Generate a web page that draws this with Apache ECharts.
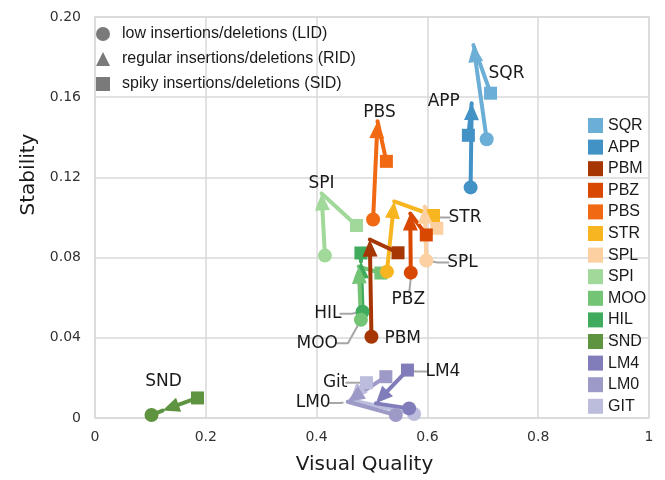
<!DOCTYPE html>
<html>
<head>
<meta charset="utf-8">
<script src="https://cdn.jsdelivr.net/npm/echarts@6/dist/echarts.min.js"></script>
<style>
html,body{margin:0;padding:0;background:#fff;}
#chart{width:665px;height:480px;}
</style>
</head>
<body>
<div id="chart"></div>
<script>
// ---- data ----
const configs = ['SQR','APP','PBM','PBZ','PBS','STR','SPL','SPI','MOO','HIL','SND','LM4','LM0','GIT'];
const plotLabels = ['SQR','APP','PBM','PBZ','PBS','STR','SPL','SPI','MOO','HIL','SND','LM4','LM0','Git'];
// low insertions/deletions (LID) : [quality, stability]
const lidQuality   = [0.707, 0.678, 0.499, 0.570, 0.502, 0.527, 0.598, 0.415, 0.480, 0.483, 0.102, 0.567, 0.543, 0.576];
const lidStability = [0.139, 0.115, 0.0405, 0.0725, 0.099, 0.073, 0.0785, 0.081, 0.049, 0.053, 0.0015, 0.0048, 0.0015, 0.002];
// regular insertions/deletions (RID)
const ridQuality   = [0.683, 0.680, 0.496, 0.569, 0.510, 0.540, 0.595, 0.409, 0.476, 0.480, 0.122, 0.507, 0.456, 0.461];
const ridStability = [0.186, 0.157, 0.089, 0.102, 0.148, 0.108, 0.1054, 0.112, 0.0755, 0.078, 0.0037, 0.0073, 0.0081, 0.009];
// spiky insertions/deletions (SID)
const sidQuality   = [0.714, 0.674, 0.547, 0.598, 0.526, 0.611, 0.617, 0.472, 0.516, 0.480, 0.185, 0.564, 0.525, 0.490];
const sidStability = [0.162, 0.141, 0.0824, 0.0913, 0.128, 0.101, 0.0946, 0.096, 0.0723, 0.0823, 0.010, 0.0239, 0.0206, 0.0176];
const xTicks = [0, 0.2, 0.4, 0.6, 0.8, 1];
const yTicks = [0, 0.04, 0.08, 0.12, 0.16, 0.20];
const markerLegend = ['low insertions/deletions (LID)', 'regular insertions/deletions (RID)', 'spiky insertions/deletions (SID)'];

// ---- styles ----
const colors = ['#6baed6','#4292c6','#a63603','#d94801','#f16913','#f7b520','#fdd0a2','#a1d99b','#74c476','#41ab5d','#5e9440','#807dba','#9e9ac8','#bcbddc'];
// which segment carries the arrowhead ('l' = from LID point, 's' = from SID point)
const headFrom = {SQR:'l', APP:'l', PBM:'l', PBZ:'l', PBS:'l', STR:'l', SPL:'l', SPI:'l', MOO:'l', HIL:'l', SND:'s', LM4:'s', LM0:'s', GIT:'s'};
// label placement: which point, pixel offset of anchor, alignment, leader line
const labelStyle = {
  SQR: {pt:'s', dx:16, dy:-20, align:'center'},
  APP: {pt:'r', dx:-28, dy:-2, align:'center'},
  PBM: {pt:'l', dx:13, dy:2, align:'left'},
  PBZ: {pt:'l', dx:-2.5, dy:27, align:'center', leader:'v'},
  PBS: {pt:'r', dx:2, dy:-9, align:'center'},
  STR: {pt:'s', dx:15, dy:2, align:'left', leader:'h'},
  SPL: {pt:'l', dx:21, dy:2, align:'left', leader:'h'},
  SPI: {pt:'r', dx:0, dy:-10, align:'center'},
  MOO: {pt:'l', dx:-23, dy:23.5, align:'right', leader:'h'},
  HIL: {pt:'l', dx:-21, dy:2, align:'right', leader:'h'},
  SND: {pt:'l', dx:12, dy:-33, align:'center'},
  LM4: {pt:'s', dx:18, dy:1.5, align:'left', leader:'h'},
  LM0: {pt:'r', dx:-17, dy:1.3, align:'right', leader:'h'},
  GIT: {pt:'s', dx:-19, dy:0, align:'right', leader:'h'}
};
const LINE_W = 4, CIRCLE_R = 7, SQUARE = 13, HEAD_L = 17, HEAD_W = 15;
const LABEL_FONT = '17px "DejaVu Sans"';

function makeRender(i) {
  return function (params, api) {
    const L = api.coord([api.value(0), api.value(1)]);
    const R = api.coord([api.value(2), api.value(3)]);
    const S = api.coord([api.value(4), api.value(5)]);
    const col = colors[i];
    const children = [];
    function segment(from, to, head) {
      const dx = to[0] - from[0], dy = to[1] - from[1];
      const len = Math.sqrt(dx*dx + dy*dy) || 1;
      const ux = dx/len, uy = dy/len;
      if (!head) {
        children.push({type:'line', shape:{x1:from[0], y1:from[1], x2:to[0], y2:to[1]},
          style:{stroke:col, lineWidth:LINE_W, lineCap:'round'}, z2:1});
        return;
      }
      const hl = Math.min(HEAD_L, len);
      const bx = to[0] - ux*hl, by = to[1] - uy*hl;
      children.push({type:'line', shape:{x1:from[0], y1:from[1], x2:bx + ux*2, y2:by + uy*2},
        style:{stroke:col, lineWidth:LINE_W, lineCap:'butt'}, z2:1});
      children.push({type:'polygon', shape:{points:[[to[0],to[1]],[bx - uy*HEAD_W/2, by + ux*HEAD_W/2],[bx + uy*HEAD_W/2, by - ux*HEAD_W/2]]},
        style:{fill:col}, z2:3});
    }
    const hf = headFrom[configs[i]];
    segment(S, R, hf === 's');
    segment(L, R, hf === 'l');
    children.push({type:'circle', shape:{cx:L[0], cy:L[1], r:CIRCLE_R}, style:{fill:col}, z2:2});
    children.push({type:'rect', shape:{x:S[0]-SQUARE/2, y:S[1]-SQUARE/2, width:SQUARE, height:SQUARE}, style:{fill:col}, z2:2});
    // label
    const ls = labelStyle[configs[i]];
    const P = ls.pt === 'l' ? L : (ls.pt === 'r' ? R : S);
    const ax = P[0] + ls.dx, ay = P[1] + ls.dy;
    children.push({type:'text', x:ax, y:ay, z2:10,
      style:{text:plotLabels[i], font:LABEL_FONT, fill:'#1a1a1a', align:ls.align, verticalAlign:'middle'}});
    if (ls.leader === 'h') {
      const dir = ls.dx > 0 ? -1 : 1;
      const kx = ax + dir*10;
      const vx = P[0] - kx, vy = P[1] - ay;
      const vl = Math.sqrt(vx*vx + vy*vy) || 1;
      const mx = P[0] - vx/vl*CIRCLE_R*0.6, my = P[1] - vy/vl*CIRCLE_R*0.6;
      children.push({type:'polyline', shape:{points:[[ax - dir*2, ay],[kx, ay],[mx, my]]},
        style:{stroke:'#a6a6a6', lineWidth:2, fill:null}, z2:0});
    } else if (ls.leader === 'v') {
      children.push({type:'line', shape:{x1:P[0], y1:P[1]+CIRCLE_R-1, x2:ax+1, y2:ay-8},
        style:{stroke:'#a6a6a6', lineWidth:2}, z2:0});
    }
    return {type:'group', children:children};
  };
}

const series = [];
for (let i = configs.length - 1; i >= 0; i--) {
  series.push({
    type:'custom', name:configs[i], coordinateSystem:'cartesian2d',
    itemStyle:{color:colors[i]},
    encode:{x:[0,2,4], y:[1,3,5]},
    renderItem: makeRender(i),
    clip:false,
    data:[[lidQuality[i], lidStability[i], ridQuality[i], ridStability[i], sidQuality[i], sidStability[i]]]
  });
}
markerLegend.forEach(function(n){
  series.push({type:'scatter', name:n, data:[], itemStyle:{color:'#595959'}});
});

const chart = echarts.init(document.getElementById('chart'), null, {renderer:'canvas'});
chart.setOption({
  animation:false,
  backgroundColor:'#fff',
  grid:{left:95, right:16, top:17, bottom:62, show:true, borderColor:'#d9d9d9', borderWidth:1.5},
  xAxis:{type:'value', min:0, max:1, interval:0.2,
    name:'Visual Quality', nameLocation:'middle', nameGap:37,
    nameTextStyle:{fontFamily:'DejaVu Sans', fontSize:20, color:'#1a1a1a', padding:[0,15,0,0]},
    axisLine:{show:false}, axisTick:{show:false},
    axisLabel:{fontFamily:'DejaVu Sans', fontSize:14, color:'#333', margin:12,
      formatter:function(v){ return String(+v.toFixed(1)); }},
    splitLine:{lineStyle:{color:'#d9d9d9', width:1.5}}},
  yAxis:{type:'value', min:0, max:0.2, interval:0.04,
    name:'Stability', nameLocation:'middle', nameGap:56, nameRotate:90,
    nameTextStyle:{fontFamily:'DejaVu Sans', fontSize:20, color:'#1a1a1a', padding:[0,0,0,86]},
    axisLine:{show:false}, axisTick:{show:false},
    axisLabel:{fontFamily:'DejaVu Sans', fontSize:14, color:'#333', margin:14,
      formatter:function(v){ return v === 0 ? '0' : v.toFixed(2); }},
    splitLine:{lineStyle:{color:'#d9d9d9', width:1.5}}},
  legend:[
    {orient:'vertical', left:588, top:117.5, padding:0, itemWidth:15, itemHeight:15, itemGap:5.6,
     icon:'rect', selectedMode:false,
     textStyle:{fontFamily:'Liberation Sans', fontSize:16, color:'#1a1a1a', lineHeight:15},
     data:configs},
    {orient:'vertical', left:96, top:26, padding:0, itemWidth:14, itemHeight:14, itemGap:9, selectedMode:false,
     textStyle:{fontFamily:'Liberation Sans', fontSize:16, color:'#1a1a1a', lineHeight:14, padding:[0,0,0,7]},
     data:[{name:markerLegend[0], icon:'circle'},{name:markerLegend[1], icon:'triangle'},{name:markerLegend[2], icon:'rect'}]}
  ],
  series:series
});
</script>
</body>
</html>
